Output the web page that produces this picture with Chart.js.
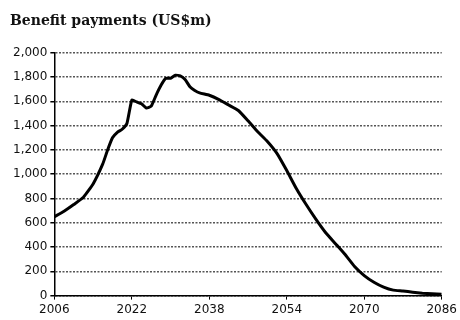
<!DOCTYPE html>
<html>
<head>
<meta charset="utf-8">
<script src="https://cdn.jsdelivr.net/npm/chart.js@4/dist/chart.umd.min.js"></script>
<style>
  html, body { margin: 0; padding: 0; background: #fff; }
  #chart { display: block; }
</style>
</head>
<body>
<canvas id="chart" width="460" height="320"></canvas>
<script>
// Benefit payments, US$m
const years = [2006, 2008, 2010, 2012, 2014, 2016, 2017, 2018, 2019, 2020, 2021, 2022, 2023, 2024, 2025,
  2026, 2027, 2028, 2029, 2030, 2031, 2032, 2033, 2034, 2035, 2036, 2038, 2040, 2042, 2044, 2046, 2048,
  2050, 2052, 2054, 2056, 2058, 2060, 2062, 2064, 2066, 2068, 2070, 2072, 2074, 2076, 2078, 2080, 2082,
  2084, 2086];
const payments = [650, 695, 750, 810, 920, 1085, 1200, 1300, 1345, 1370, 1420, 1610, 1595, 1580, 1545,
  1560, 1650, 1730, 1790, 1790, 1815, 1810, 1780, 1720, 1690, 1670, 1650, 1615, 1570, 1525, 1440, 1350,
  1270, 1170, 1030, 880, 750, 630, 520, 430, 340, 240, 165, 110, 70, 45, 38, 28, 20, 15, 12];
const xMin = 2006, xMax = 2086, xStep = 16;
const yMax = 2000, yStep = 200;

const tickFont = { family: "'DejaVu Sans', sans-serif", size: 12 };

new Chart(document.getElementById('chart').getContext('2d'), {
  type: 'line',
  data: {
    datasets: [{
      label: 'Benefit payments',
      data: years.map((y, i) => ({ x: y, y: payments[i] })),
      borderColor: '#000',
      borderWidth: 3,
      pointRadius: 0,
      tension: 0.15
    }]
  },
  options: {
    responsive: false,
    animation: false,
    layout: { padding: { left: 10, right: 0 } },
    plugins: {
      legend: { display: false },
      title: {
        display: true,
        text: 'Benefit payments (US$m)',
        align: 'start',
        color: '#111',
        font: { family: "'DejaVu Serif', serif", size: 14, weight: 'bold' },
        padding: { top: 13, bottom: 23 }
      }
    },
    scales: {
      x: {
        type: 'linear',
        min: xMin,
        max: xMax,
        ticks: { stepSize: xStep, color: '#111', font: tickFont, maxRotation: 0, callback: (v) => String(v) },
        grid: { drawOnChartArea: false, tickLength: 4, tickColor: '#000' },
        border: { color: '#000', width: 1.5 }
      },
      y: {
        min: 0,
        max: yMax,
        ticks: { stepSize: yStep, color: '#111', font: tickFont },
        grid: { color: '#555', lineWidth: 1.5, tickLength: 4, tickColor: '#000' },
        border: { color: '#000', width: 1.5, dash: [2, 1.5] }
      }
    }
  }
});
</script>
</body>
</html>
